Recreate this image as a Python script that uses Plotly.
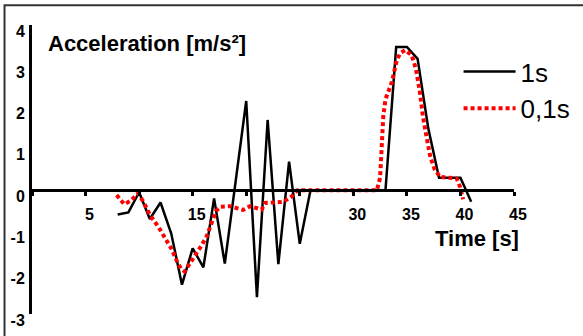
import plotly.graph_objects as go

# 1 s sampling
t_1s = [8, 9, 10, 11, 12, 13, 14, 15, 16, 17, 18, 20, 21, 22, 23, 24, 25, 26,
        27, 28, 29, 30, 31, 32, 33, 34, 35, 36, 37, 38, 39, 40, 41]
a_1s = [-0.59, -0.54, -0.05, -0.70, -0.30, -1.05, -2.29, -1.41, -1.87, -0.20,
        -1.78, 2.16, -2.59, 1.70, -1.79, 0.69, -1.30, 0, 0, 0, 0, 0, 0, 0, 0,
        3.47, 3.47, 3.18, 1.49, 0.30, 0.30, 0.30, -0.28]

# 0.1 s sampling
t_01s = [7.9, 8.3, 8.6, 9.2, 9.9, 10.4, 11.0, 11.8, 12.4, 13.0, 13.5, 13.9, 14.25,
         14.75, 15.2, 15.8, 16.3, 16.8, 17.2, 17.6, 18.5, 19.7, 20.35, 21.45, 21.75,
         23.15, 23.5, 24.25, 24.8, 26, 28, 30, 32.2, 32.5, 32.65, 32.8, 33.0, 33.3,
         33.6, 33.9, 34.1, 34.4, 34.83, 35.45, 35.85, 36.2, 36.5, 36.85, 37.2, 37.6,
         38.1, 39.0, 39.65, 39.96, 40.25]
a_01s = [-0.12, -0.25, -0.34, -0.26, -0.08, -0.28, -0.60, -0.89, -1.17, -1.41, -1.70,
         -1.90, -1.97, -1.78, -1.58, -1.35, -1.12, -0.78, -0.50, -0.40, -0.39, -0.48,
         -0.39, -0.47, -0.31, -0.29, -0.28, -0.15, 0, 0, 0, 0, 0, 0.30, 0.90, 1.80,
         2.20, 2.42, 2.62, 2.97, 3.18, 3.32, 3.39, 3.27, 2.93, 2.40, 1.78, 1.27, 0.79,
         0.50, 0.32, 0.30, 0.28, 0.08, -0.22]

x_ticks = [0, 5, 10, 15, 20, 25, 30, 35, 40, 45]
x_ticktext = ["", "5", "", "15", "", "", "30", "35", "40", "45"]
y_ticks = [-3, -2, -1, 0, 1, 2, 3, 4]
y_ticktext = ["-3", "-2", "-1", "0", "1", "2", "3", "4"]

FONT = "Liberation Sans, Arial, sans-serif"

fig = go.Figure()
fig.add_trace(go.Scatter(x=t_1s, y=a_1s, mode="lines", name="1s",
                         line=dict(color="black", width=2.5)))
fig.add_trace(go.Scatter(x=t_01s, y=a_01s, mode="lines", name="0,1s",
                         line=dict(color="#ff0000", width=4, dash="4px,3px")))

fig.update_layout(
    width=583, height=336,
    margin=dict(l=32, r=69, t=25, b=22, autoexpand=False),
    paper_bgcolor="white", plot_bgcolor="white",
    showlegend=True,
    legend=dict(x=0.885, y=0.92, xanchor="left", yanchor="top",
                font=dict(family=FONT, size=26, color="black"),
                bgcolor="rgba(0,0,0,0)", itemwidth=52, tracegroupgap=0),
    xaxis=dict(range=[0, 45], tickvals=x_ticks, ticktext=x_ticktext,
               showgrid=False, zeroline=False, showline=True, linecolor="black",
               linewidth=3, ticks="outside", ticklen=4, tickwidth=3, tickcolor="black",
               anchor="free", position=3 / 7, ticklabelstandoff=5, ticklabelshift=4,
               automargin=False,
               tickfont=dict(family=FONT, size=16, color="black", weight="bold")),
    yaxis=dict(range=[-3, 4], tickvals=y_ticks, ticktext=y_ticktext,
               showgrid=False, zeroline=False, showline=True, linecolor="black",
               linewidth=3, ticks="", ticklabelshift=6, ticklabelstandoff=1,
               automargin=False,
               tickfont=dict(family=FONT, size=16, color="black", weight="bold")),
    annotations=[
        dict(text="Acceleration [m/s²]", xref="x", yref="y", x=1.3, y=3.54,
             xanchor="left", yanchor="middle", showarrow=False,
             font=dict(family=FONT, size=22, color="black", weight="bold")),
        dict(text="Time [s]", xref="x", yref="y", x=41.5, y=-1.17,
             xanchor="center", yanchor="middle", showarrow=False,
             font=dict(family=FONT, size=22, color="black", weight="bold")),
    ],
    shapes=[
        dict(type="rect", xref="paper", yref="paper", x0=-0.057, x1=1.25,
             y0=-0.15, y1=1.068, layer="above", fillcolor="rgba(0,0,0,0)",
             line=dict(color="#333", width=2)),
    ],
)

fig.write_html(
    "out.html",
    config={"displayModeBar": False},
    post_script="document.body.style.margin='0';document.body.style.overflow='hidden';",
)
